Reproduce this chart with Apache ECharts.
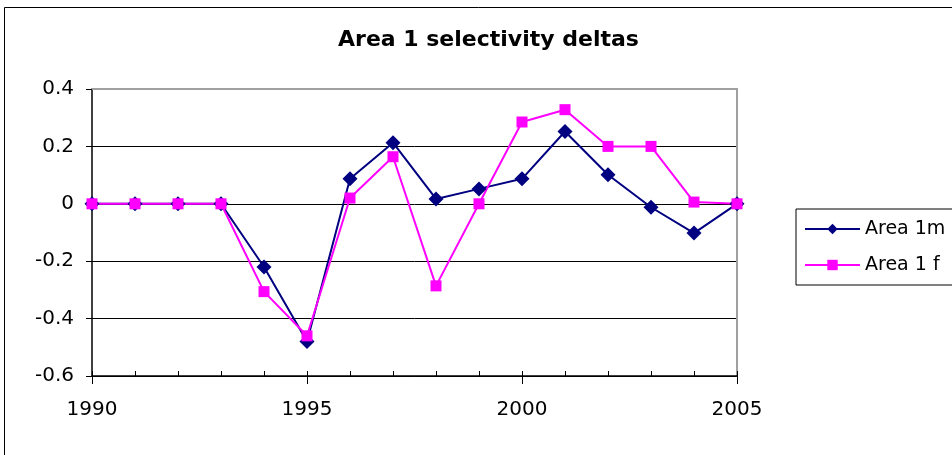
<!DOCTYPE html>
<html>
<head>
<meta charset="utf-8">
<script src="https://cdn.jsdelivr.net/npm/echarts@6/dist/echarts.min.js"></script>
<style>html,body{margin:0;padding:0;background:#fff}#c{width:952px;height:455px}</style>
</head>
<body>
<div id="c"></div>
<script>
var years = [1990,1991,1992,1993,1994,1995,1996,1997,1998,1999,2000,2001,2002,2003,2004,2005];
var area1m = [0,0,0,0,-0.22,-0.48,0.087,0.213,0.017,0.052,0.087,0.252,0.101,-0.012,-0.102,0];
var area1f = [0,0,0,0,-0.306,-0.46,0.02,0.164,-0.286,0,0.285,0.328,0.2,0.2,0.006,0];
var seriesNames = ['Area 1m', 'Area 1 f'];
var titleText = 'Area 1 selectivity deltas';

function pairs(v){ return years.map(function(y,i){ return [y, v[i]]; }); }

var chart = echarts.init(document.getElementById('c'), null, {renderer:'canvas'});
var font = 'DejaVu Sans';
chart.setOption({
  animation:false,
  backgroundColor:'#fff',
  graphic:[{type:'rect', shape:{x:4.5,y:7.5,width:1000,height:1000}, style:{fill:'none', stroke:'#000', lineWidth:1}, silent:true}],
  title:{text:titleText, left:333, top:24, textStyle:{fontFamily:font, fontWeight:'bold', fontSize:22, color:'#000'}},
  legend:{
    orient:'vertical', left:796, top:209,
    padding:[9,20,9,8], itemGap:14, itemWidth:55, itemHeight:13,
    borderColor:'#000', borderWidth:1, backgroundColor:'#fff',
    textStyle:{fontFamily:font, fontSize:19, color:'#000', lineHeight:22},
    data:seriesNames
  },
  grid:{left:92, right:215, top:89, bottom:79},
  xAxis:[
    {type:'value', min:1990, max:2005, interval:5,
     axisLine:{onZero:false, lineStyle:{color:'#000', width:1.5}},
     axisTick:{show:true, length:8, lineStyle:{color:'#000'}},
     axisLabel:{margin:24, fontFamily:font, fontSize:20, color:'#000',
       formatter:function(v){ return String(v); }},
     splitLine:{show:false}},
    {type:'value', min:1990, max:2005, interval:1, position:'bottom',
     axisLine:{show:false, onZero:false},
     axisTick:{show:true, inside:true, length:5, lineStyle:{color:'#000'}},
     axisLabel:{show:false}, splitLine:{show:false}},
    {type:'value', min:1990, max:2005, position:'top',
     axisLine:{show:true, onZero:false, lineStyle:{color:'#a0a0a0', width:2}},
     axisTick:{show:false}, axisLabel:{show:false}, splitLine:{show:false}}
  ],
  yAxis:[
    {type:'value', min:-0.6, max:0.4, interval:0.2,
     axisLine:{show:true, onZero:false, lineStyle:{color:'#000', width:1.5}},
     axisTick:{show:true, length:6, lineStyle:{color:'#000'}},
     axisLabel:{margin:18, fontFamily:font, fontSize:20, color:'#000',
       formatter:function(v){ return String(Math.round(v*10)/10); }},
     splitLine:{show:true, lineStyle:{color:['#000','#000','#000','#000','#000','transparent'], width:1}}},
    {type:'value', min:-0.6, max:0.4, interval:0.2, position:'right',
     axisLine:{show:true, onZero:false, lineStyle:{color:'#a0a0a0', width:2}},
     axisTick:{show:false}, axisLabel:{show:false}, splitLine:{show:false}}
  ],
  series:[
    {name:seriesNames[0], type:'line', data:pairs(area1m), symbol:'diamond', symbolSize:15,
     itemStyle:{color:'#000080'}, lineStyle:{color:'#000080', width:2}},
    {name:seriesNames[1], type:'line', data:pairs(area1f), symbol:'rect', symbolSize:11,
     itemStyle:{color:'#ff00ff'}, lineStyle:{color:'#ff00ff', width:2}}
  ]
});
</script>
</body>
</html>
